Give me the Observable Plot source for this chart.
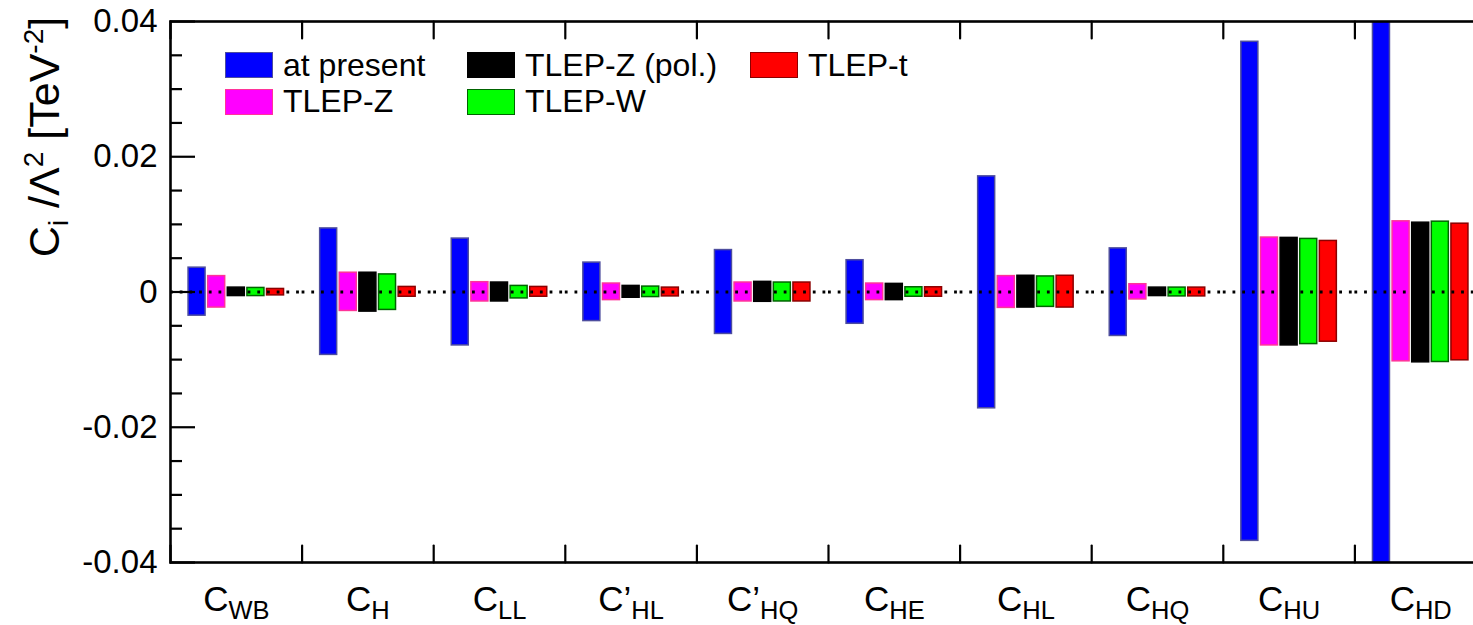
<!DOCTYPE html>
<html>
<head>
<meta charset="utf-8">
<script src="https://cdn.jsdelivr.net/npm/d3@7"></script>
<script src="https://cdn.jsdelivr.net/npm/@observablehq/plot@0.6"></script>
<style>
  html, body { margin: 0; padding: 0; background: #fff; }
  #wrap { position: relative; width: 1473px; height: 625px; overflow: hidden; font-family: "Liberation Sans", Arial, Helvetica, sans-serif; }
  #ytitle { position: absolute; left: 44px; top: 137px; transform: translate(-50%, -50%) rotate(-90deg); white-space: nowrap; font-size: 43px; color: #000; }
  #ytitle sub, #ytitle sup { font-size: 28px; line-height: 0; }
  #legend { position: absolute; left: 225px; top: 47px; display: grid; grid-auto-flow: column; grid-template-rows: 36.5px 36.5px; grid-template-columns: 242px 283px auto; font-size: 32px; }
  .item { display: flex; align-items: center; white-space: nowrap; }
  .sw { width: 46px; height: 24px; margin-right: 10px; border: 1.5px solid; }
</style>
</head>
<body>
<div id="wrap">
  <div id="ytitle">C<sub>i</sub> /Λ<sup>2</sup> [TeV<sup>-2</sup>]</div>
  <div id="legend"></div>
</div>
<script>
// Wilson coefficients (main symbol | subscript)
const coefficients = ["C|WB", "C|H", "C|LL", "C’|HL", "C’|HQ", "C|HE", "C|HL", "C|HQ", "C|HU", "C|HD"];
const scenarios = ["at present", "TLEP-Z", "TLEP-Z (pol.)", "TLEP-W", "TLEP-t"];

// 1σ ranges in TeV^-2, one row per coefficient, one entry per scenario
const upper = [
  [0.0036, 0.00235, 0.00065, 0.0006, 0.00045],
  [0.0094, 0.00285, 0.00285, 0.0026, 0.00075],
  [0.0079, 0.00145, 0.0014, 0.0009, 0.00075],
  [0.00435, 0.00125, 0.0009, 0.0008, 0.00065],
  [0.0062, 0.0014, 0.0015, 0.0014, 0.0014],
  [0.0047, 0.00125, 0.0012, 0.0007, 0.0007],
  [0.0171, 0.00235, 0.0024, 0.0023, 0.0024],
  [0.00645, 0.00115, 0.00065, 0.00065, 0.00065],
  [0.037, 0.00805, 0.008, 0.00785, 0.00755],
  [0.05, 0.01045, 0.01025, 0.0104, 0.0101]
];
const lower = [
  [-0.0035, -0.0023, -0.0006, -0.0006, -0.0005],
  [-0.0093, -0.0028, -0.0029, -0.00265, -0.0007],
  [-0.0079, -0.0014, -0.0014, -0.00095, -0.0007],
  [-0.0043, -0.0012, -0.00085, -0.00075, -0.00065],
  [-0.0062, -0.0014, -0.00145, -0.0014, -0.0014],
  [-0.0047, -0.0012, -0.0012, -0.0007, -0.0007],
  [-0.0172, -0.00235, -0.0023, -0.0022, -0.0023],
  [-0.0065, -0.0011, -0.0006, -0.00065, -0.00065],
  [-0.0368, -0.0079, -0.0079, -0.0077, -0.00735],
  [-0.05, -0.01025, -0.0104, -0.01035, -0.0101]
];

const yTicks = [-0.04, -0.02, 0, 0.02, 0.04];
const yTickLabels = ["-0.04", "-0.02", "0", "0.02", "0.04"];
const yMinorTicks = [-0.035, -0.03, -0.025, -0.015, -0.01, -0.005, 0.005, 0.01, 0.015, 0.025, 0.03, 0.035];

const fills = ["#0000ff", "#ff00ff", "#000000", "#00ff00", "#ff0000"];
const strokes = ["#4d4d9e", "#ff3399", "#000000", "#006400", "#8b0000"];

const rows = [];
coefficients.forEach((c, i) => scenarios.forEach((s, j) => {
  rows.push({coef: c, scenario: s, k: j, lo: lower[i][j], hi: upper[i][j]});
}));

// short boundary tick between coefficient groups
const tickShape = {draw(context, l) { context.moveTo(0, 0); context.lineTo(0, -l); }};

const chart = Plot.plot({
  width: 1486,
  height: 625,
  marginLeft: 170,
  marginRight: 0,
  marginTop: 21,
  marginBottom: 63,
  style: {fontFamily: "'Liberation Sans', Arial, Helvetica, sans-serif", fontSize: "32px", color: "#000", background: "#fff"},
  facet: {data: rows, x: "coef"},
  fx: {domain: coefficients, padding: 0, round: false, axis: null, label: null},
  x: {domain: scenarios, paddingInner: 0.133, paddingOuter: 0.92, round: false, axis: null},
  y: {domain: [-0.04, 0.04], axis: null},
  marks: [
    Plot.barY(rows, {
      x: "scenario", y1: "lo", y2: "hi",
      fill: d => fills[d.k], stroke: d => strokes[d.k], strokeWidth: 1.5,
      clip: true
    }),
    Plot.ruleY([0], {stroke: "#000", strokeWidth: 2.8, strokeDasharray: "2.8 6.9"}),
    Plot.frame({facet: "super", stroke: "#000", strokeWidth: 2.6}),
    Plot.vector([0], {frameAnchor: "top-left", anchor: "start", length: 17, rotate: 180, shape: tickShape, stroke: "#000", strokeWidth: 2.2}),
    Plot.vector([0], {frameAnchor: "bottom-left", anchor: "start", length: 17, rotate: 0, shape: tickShape, stroke: "#000", strokeWidth: 2.2}),
    Plot.axisY({ticks: yMinorTicks, tickSize: -12, fill: "none", strokeWidth: 2.2, label: null}),
    Plot.axisY({ticks: yTicks, tickSize: -25, fill: "none", strokeWidth: 2.2, label: null}),
    Plot.axisY({ticks: yTicks, tickSize: 0, tickPadding: 13, fontSize: 33, label: null,
      tickFormat: d => yTickLabels[yTicks.indexOf(d)]}),
    Plot.axisFx({anchor: "bottom", tickSize: 0, tickPadding: 24, fontSize: 35, label: null, tickFormat: d => d})
  ]
});

document.getElementById("wrap").prepend(chart);
chart.style.position = "absolute";
chart.style.left = "0";
chart.style.top = "0";
chart.style.maxWidth = "none";

// coefficient names: main symbol followed by a lowered, smaller subscript
d3.select(chart).selectAll("text").each(function() {
  const t = this.textContent;
  if (!t.includes("|")) return;
  const [main, sub] = t.split("|");
  const el = d3.select(this);
  el.text(null);
  el.append("tspan").style("font-size", "35px").text(main);
  el.append("tspan").attr("dy", "8").style("font-size", "25.5px").text(sub);
});

// legend
const legend = d3.select("#legend");
scenarios.forEach((s, j) => {
  const item = legend.append("div").attr("class", "item");
  item.append("div").attr("class", "sw").style("background", fills[j]).style("border-color", strokes[j]);
  item.append("span").text(s);
});
</script>
</body>
</html>
